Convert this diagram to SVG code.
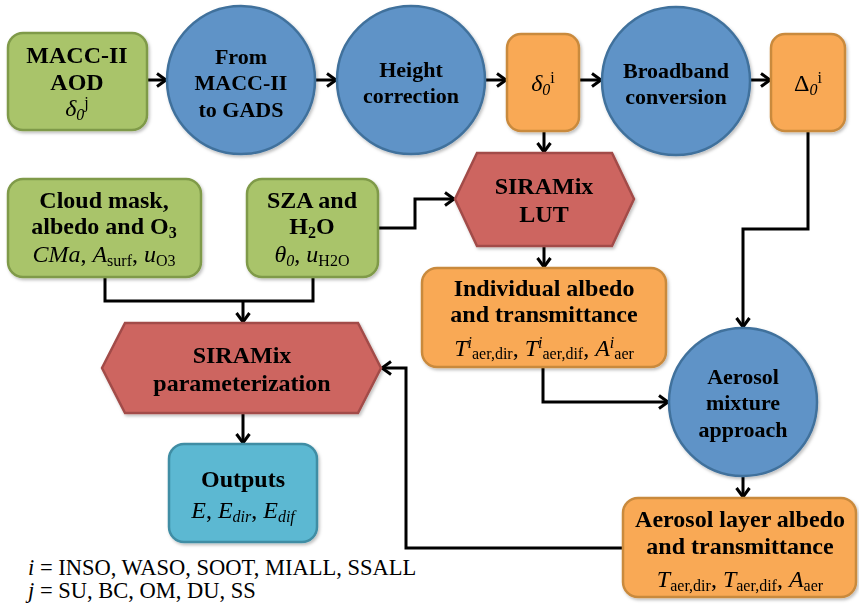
<svg xmlns="http://www.w3.org/2000/svg" width="859" height="607" viewBox="0 0 859 607" font-family="'Liberation Serif', 'DejaVu Serif', 'Times New Roman', serif">
<style>
text{font-family:'Liberation Serif','DejaVu Serif','Times New Roman',serif;fill:#000;}
.t{font-weight:bold;font-size:24px;text-anchor:middle;}
.c{font-weight:bold;font-size:22px;text-anchor:middle;}
.f{font-size:24px;text-anchor:middle;}
.i{font-style:italic;}
.s{font-size:16px;}
.green{fill:#a9c46b;stroke:#7f9a48;stroke-width:2.5;}
.blue{fill:#5e93c7;stroke:#41719c;stroke-width:2.5;}
.orange{fill:#f9a955;stroke:#c98a3e;stroke-width:2.5;}
.red{fill:#cd6560;stroke:#a24c48;stroke-width:2.5;}
.teal{fill:#5bb8d2;stroke:#3f8da4;stroke-width:2.5;}
.conn path{fill:none;stroke:#000;stroke-width:3;}
.legend{font-size:22.5px;}
</style>
<defs>
<marker id="arr" markerUnits="userSpaceOnUse" markerWidth="16" markerHeight="16" viewBox="0 0 16 16" refX="13" refY="8" orient="auto">
<path d="M4,1.5 L13,8 L4,14.5" fill="none" stroke="#000" stroke-width="3"/>
</marker>
<filter id="sh" x="-10%" y="-10%" width="125%" height="125%">
<feDropShadow dx="1.5" dy="2" stdDeviation="1.5" flood-color="#000" flood-opacity="0.25"/>
</filter>
</defs>

<g id="connectors" class="conn">
<path d="M147,80 H166" marker-end="url(#arr)"/>
<path d="M315,80 H336" marker-end="url(#arr)"/>
<path d="M485,80 H506" marker-end="url(#arr)"/>
<path d="M579,80 H601" marker-end="url(#arr)"/>
<path d="M750,80 H770" marker-end="url(#arr)"/>
<path d="M544,131 V152" marker-end="url(#arr)"/>
<path d="M378,228 H415 V199 H454" marker-end="url(#arr)"/>
<path d="M544,246 V267" marker-end="url(#arr)"/>
<path d="M808,131 V229 H743 V327" marker-end="url(#arr)"/>
<path d="M543,367 V402 H668" marker-end="url(#arr)"/>
<path d="M743,477 V497" marker-end="url(#arr)"/>
<path d="M623,548 H406 V368 H382" marker-end="url(#arr)"/>
<path d="M105,277 V301 H313 V277"/>
<path d="M243,301 V322" marker-end="url(#arr)"/>
<path d="M243,413 V443" marker-end="url(#arr)"/>
</g>

<g id="macc-aod" filter="url(#sh)">
<rect class="green" x="8" y="33" width="139" height="97" rx="15"/>
<text class="t" x="77" y="63">MACC-II</text>
<text class="t" x="77" y="90">AOD</text>
<text class="f" x="77" y="116"><tspan class="i">δ</tspan><tspan class="i s" dy="4">0</tspan><tspan class="s" dy="-12">j</tspan></text>
</g>

<g id="macc-to-gads" filter="url(#sh)">
<circle class="blue" cx="241" cy="80" r="74"/>
<text class="c" x="241" y="64">From</text>
<text class="c" x="241" y="90">MACC-II</text>
<text class="c" x="241" y="117">to GADS</text>
</g>

<g id="height-correction" filter="url(#sh)">
<circle class="blue" cx="411" cy="80" r="74"/>
<text class="c" x="411" y="77">Height</text>
<text class="c" x="411" y="103">correction</text>
</g>

<g id="delta-i" filter="url(#sh)">
<rect class="orange" x="507" y="34" width="72" height="97" rx="14"/>
<text class="f" x="543" y="91"><tspan class="i">δ</tspan><tspan class="i s" dy="4">0</tspan><tspan class="s" dy="-12">i</tspan></text>
</g>

<g id="broadband" filter="url(#sh)">
<circle class="blue" cx="676" cy="81" r="74"/>
<text class="c" x="676" y="78">Broadband</text>
<text class="c" x="676" y="104">conversion</text>
</g>

<g id="Delta-i" filter="url(#sh)">
<rect class="orange" x="771" y="34" width="74" height="97" rx="14"/>
<text class="f" x="808" y="91">Δ<tspan class="i s" dy="4">0</tspan><tspan class="s" dy="-12">i</tspan></text>
</g>

<g id="cloud-mask" filter="url(#sh)">
<rect class="green" x="8" y="179" width="193" height="98" rx="15"/>
<text class="t" x="104" y="208">Cloud mask,</text>
<text class="t" x="104" y="234">albedo and O<tspan class="s" dy="4">3</tspan></text>
<text class="f" x="104" y="262"><tspan class="i">CMa</tspan>, <tspan class="i">A</tspan><tspan class="s" dy="4">surf</tspan><tspan dy="-4">, </tspan><tspan class="i">u</tspan><tspan class="s" dy="4">O3</tspan></text>
</g>

<g id="sza-h2o" filter="url(#sh)">
<rect class="green" x="247" y="179" width="131" height="98" rx="15"/>
<text class="t" x="312" y="208">SZA and</text>
<text class="t" x="312" y="234">H<tspan class="s" dy="4">2</tspan><tspan dy="-4">O</tspan></text>
<text class="f" x="312" y="262"><tspan class="i">θ</tspan><tspan class="i s" dy="4">0</tspan><tspan dy="-4">, </tspan><tspan class="i">u</tspan><tspan class="s" dy="4">H2O</tspan></text>
</g>

<g id="siramix-lut" filter="url(#sh)">
<polygon class="red" points="477,153 612,153 634,199 612,246 477,246 455,199"/>
<text class="t" x="544" y="194">SIRAMix</text>
<text class="t" x="544" y="222">LUT</text>
</g>

<g id="individual" filter="url(#sh)">
<rect class="orange" x="422" y="268" width="244" height="99" rx="15"/>
<text class="t" x="544" y="296">Individual albedo</text>
<text class="t" x="544" y="322">and transmittance</text>
<text class="f" x="544" y="356"><tspan class="i">T</tspan><tspan class="i s" dy="-8">i</tspan><tspan class="s" dy="11">aer,dir</tspan><tspan dy="-3">, </tspan><tspan class="i">T</tspan><tspan class="i s" dy="-8">i</tspan><tspan class="s" dy="11">aer,dif</tspan><tspan dy="-3">, </tspan><tspan class="i">A</tspan><tspan class="i s" dy="-8">i</tspan><tspan class="s" dy="11">aer</tspan></text>
</g>

<g id="aerosol-mixture" filter="url(#sh)">
<circle class="blue" cx="743" cy="402" r="74"/>
<text class="c" x="743" y="384">Aerosol</text>
<text class="c" x="743" y="410">mixture</text>
<text class="c" x="743" y="437">approach</text>
</g>

<g id="aerosol-layer" filter="url(#sh)">
<rect class="orange" x="623" y="498" width="233" height="99" rx="15"/>
<text class="t" x="740" y="527">Aerosol layer albedo</text>
<text class="t" x="740" y="554">and transmittance</text>
<text class="f" x="740" y="587"><tspan class="i">T</tspan><tspan class="s" dy="4">aer,dir</tspan><tspan dy="-4">, </tspan><tspan class="i">T</tspan><tspan class="s" dy="4">aer,dif</tspan><tspan dy="-4">, </tspan><tspan class="i">A</tspan><tspan class="s" dy="4">aer</tspan></text>
</g>

<g id="siramix-param" filter="url(#sh)">
<polygon class="red" points="125,323 358,323 381,368 358,413 125,413 102,368"/>
<text class="t" x="242" y="363">SIRAMix</text>
<text class="t" x="242" y="391">parameterization</text>
</g>

<g id="outputs" filter="url(#sh)">
<rect class="teal" x="169" y="444" width="148" height="98" rx="15"/>
<text class="t" x="243" y="487">Outputs</text>
<text class="f" x="243" y="518"><tspan class="i">E</tspan>, <tspan class="i">E</tspan><tspan class="i s" dy="4">dir</tspan><tspan dy="-4">, </tspan><tspan class="i">E</tspan><tspan class="i s" dy="4">dif</tspan></text>
</g>

<g id="legend">
<text class="legend" x="28" y="575"><tspan class="i">i</tspan> = INSO, WASO, SOOT, MIALL, SSALL</text>
<text class="legend" x="28" y="598"><tspan class="i">j</tspan> = SU, BC, OM, DU, SS</text>
</g>
</svg>
